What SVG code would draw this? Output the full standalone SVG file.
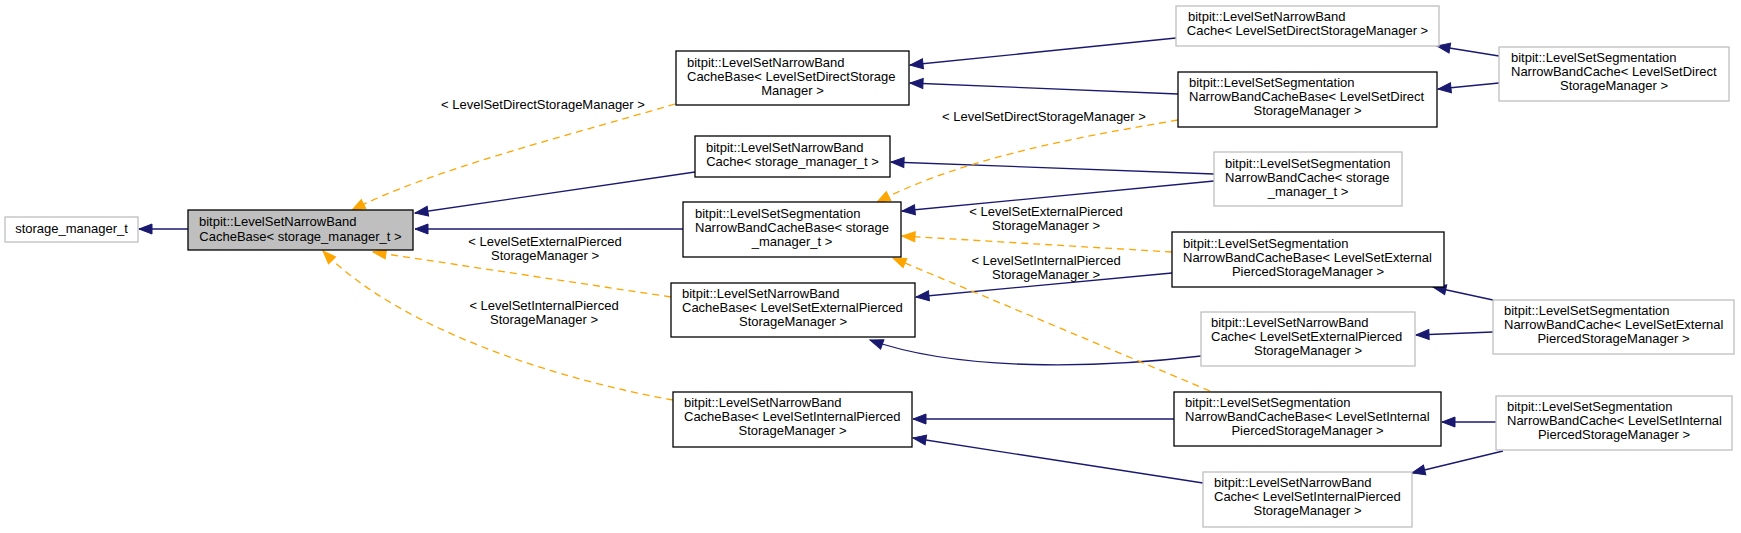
<svg xmlns="http://www.w3.org/2000/svg" width="1741" height="533" viewBox="0 0 1741 533">
<style>
rect.n{fill:#ffffff;stroke:#000000;stroke-width:1.3}
rect.g{fill:#ffffff;stroke:#bfbfbf;stroke-width:1.3}
rect.m{fill:#bfbfbf;stroke:#000000;stroke-width:1.3}
text{font-family:"Liberation Sans",Arial,Helvetica,sans-serif;font-size:13px;fill:#000000}
text.c{text-anchor:middle}
path.b{fill:none;stroke:#191970;stroke-width:1.3;marker-end:url(#ab)}
path.o{fill:none;stroke:#ffa500;stroke-width:1.3;stroke-dasharray:7,5;marker-end:url(#ao)}
</style>
<defs>
<marker id="ab" markerWidth="14" markerHeight="11" refX="13" refY="5" orient="auto" markerUnits="userSpaceOnUse" overflow="visible"><path d="M0,0 L13,5 L0,10 z" fill="#191970" stroke="#191970" stroke-width="1"/></marker>
<marker id="ao" markerWidth="14" markerHeight="11" refX="13" refY="5" orient="auto" markerUnits="userSpaceOnUse" overflow="visible"><path d="M0,0 L13,5 L0,10 z" fill="#ffa500" stroke="#ffa500" stroke-width="1"/></marker>
</defs>
<rect width="1741" height="533" fill="#ffffff"/>
<g id="connectors">
<path class="b" d="M188,229 L139,229"/>
<path class="b" d="M695,172 L415,213"/>
<path class="b" d="M683,229 L415,229"/>
<path class="b" d="M1176,38 L910,65"/>
<path class="b" d="M1178,94 L910,83"/>
<path class="b" d="M1499,56 L1437,46"/>
<path class="b" d="M1499,83 L1438,89"/>
<path class="b" d="M1214,174 L891,162"/>
<path class="b" d="M1214,181 L902,211"/>
<path class="b" d="M1172,273 L916,297"/>
<path class="b" d="M1201,356 C1100,368 960,372 870,340"/>
<path class="b" d="M1493,300 L1433,287"/>
<path class="b" d="M1493,332 L1416,335"/>
<path class="b" d="M1174,419 L913,419"/>
<path class="b" d="M1203,483 L913,438"/>
<path class="b" d="M1496,422 L1442,422"/>
<path class="b" d="M1503,451 L1412,473"/>
<path class="o" d="M675,104 C570,135 430,170 352,210"/>
<path class="o" d="M671,297 L373,252"/>
<path class="o" d="M673,400 C560,380 400,330 323,251"/>
<path class="o" d="M1178,120 C1060,140 960,160 877,202"/>
<path class="o" d="M1172,252 L902,236"/>
<path class="o" d="M1210,391 L893,258"/>
<text class="c" x="543" y="109">&lt; LevelSetDirectStorageManager &gt;</text>
<text class="c" x="545" y="246">&lt; LevelSetExternalPierced</text>
<text class="c" x="545" y="260">StorageManager &gt;</text>
<text class="c" x="544" y="310">&lt; LevelSetInternalPierced</text>
<text class="c" x="544" y="324">StorageManager &gt;</text>
<text class="c" x="1044" y="121">&lt; LevelSetDirectStorageManager &gt;</text>
<text class="c" x="1046" y="216">&lt; LevelSetExternalPierced</text>
<text class="c" x="1046" y="230">StorageManager &gt;</text>
<text class="c" x="1046" y="265">&lt; LevelSetInternalPierced</text>
<text class="c" x="1046" y="279">StorageManager &gt;</text>
</g>
<g id="n0"><rect class="g" x="5" y="217" width="133" height="25"/><text class="c" x="71.5" y="233">storage_manager_t</text></g>
<g id="n1"><rect class="m" x="188" y="210" width="225" height="40"/><text x="199" y="226">bitpit::LevelSetNarrowBand</text><text class="c" x="300.5" y="241">CacheBase&lt; storage_manager_t &gt;</text></g>
<g id="n2"><rect class="n" x="676" y="51" width="233" height="54"/><text x="687" y="67">bitpit::LevelSetNarrowBand</text><text x="687" y="81">CacheBase&lt; LevelSetDirectStorage</text><text class="c" x="792.5" y="95">Manager &gt;</text></g>
<g id="n3"><rect class="n" x="695" y="136" width="195" height="41"/><text x="706" y="152">bitpit::LevelSetNarrowBand</text><text class="c" x="792.5" y="166">Cache&lt; storage_manager_t &gt;</text></g>
<g id="n4"><rect class="n" x="683" y="202" width="218" height="55"/><text x="695" y="218">bitpit::LevelSetSegmentation</text><text x="695" y="232">NarrowBandCacheBase&lt; storage</text><text class="c" x="792" y="246">_manager_t &gt;</text></g>
<g id="n5"><rect class="n" x="671" y="283" width="244" height="54"/><text x="682" y="298">bitpit::LevelSetNarrowBand</text><text x="682" y="312">CacheBase&lt; LevelSetExternalPierced</text><text class="c" x="793" y="326">StorageManager &gt;</text></g>
<g id="n6"><rect class="n" x="673" y="392" width="239" height="55"/><text x="684" y="407">bitpit::LevelSetNarrowBand</text><text x="684" y="421">CacheBase&lt; LevelSetInternalPierced</text><text class="c" x="792.5" y="435">StorageManager &gt;</text></g>
<g id="n7"><rect class="g" x="1176" y="6" width="263" height="40"/><text x="1188" y="21">bitpit::LevelSetNarrowBand</text><text class="c" x="1307.5" y="35">Cache&lt; LevelSetDirectStorageManager &gt;</text></g>
<g id="n8"><rect class="n" x="1178" y="72" width="259" height="55"/><text x="1189" y="87">bitpit::LevelSetSegmentation</text><text x="1189" y="101">NarrowBandCacheBase&lt; LevelSetDirect</text><text class="c" x="1307.5" y="115">StorageManager &gt;</text></g>
<g id="n9"><rect class="g" x="1214" y="152" width="188" height="54"/><text x="1225" y="168">bitpit::LevelSetSegmentation</text><text x="1225" y="182">NarrowBandCache&lt; storage</text><text class="c" x="1308" y="196">_manager_t &gt;</text></g>
<g id="n10"><rect class="n" x="1172" y="232" width="272" height="55"/><text x="1183" y="248">bitpit::LevelSetSegmentation</text><text x="1183" y="262">NarrowBandCacheBase&lt; LevelSetExternal</text><text class="c" x="1308" y="276">PiercedStorageManager &gt;</text></g>
<g id="n11"><rect class="g" x="1201" y="312" width="214" height="54"/><text x="1211" y="327">bitpit::LevelSetNarrowBand</text><text x="1211" y="341">Cache&lt; LevelSetExternalPierced</text><text class="c" x="1308" y="355">StorageManager &gt;</text></g>
<g id="n12"><rect class="n" x="1174" y="392" width="267" height="54"/><text x="1185" y="407">bitpit::LevelSetSegmentation</text><text x="1185" y="421">NarrowBandCacheBase&lt; LevelSetInternal</text><text class="c" x="1307.5" y="435">PiercedStorageManager &gt;</text></g>
<g id="n13"><rect class="g" x="1203" y="472" width="209" height="55"/><text x="1214" y="487">bitpit::LevelSetNarrowBand</text><text x="1214" y="501">Cache&lt; LevelSetInternalPierced</text><text class="c" x="1307.5" y="515">StorageManager &gt;</text></g>
<g id="n14"><rect class="g" x="1499" y="47" width="230" height="54"/><text x="1511" y="62">bitpit::LevelSetSegmentation</text><text x="1511" y="76">NarrowBandCache&lt; LevelSetDirect</text><text class="c" x="1614" y="90">StorageManager &gt;</text></g>
<g id="n15"><rect class="g" x="1493" y="300" width="241" height="54"/><text x="1504" y="315">bitpit::LevelSetSegmentation</text><text x="1504" y="329">NarrowBandCache&lt; LevelSetExternal</text><text class="c" x="1613.5" y="343">PiercedStorageManager &gt;</text></g>
<g id="n16"><rect class="g" x="1496" y="396" width="236" height="54"/><text x="1507" y="411">bitpit::LevelSetSegmentation</text><text x="1507" y="425">NarrowBandCache&lt; LevelSetInternal</text><text class="c" x="1614" y="439">PiercedStorageManager &gt;</text></g>
</svg>
